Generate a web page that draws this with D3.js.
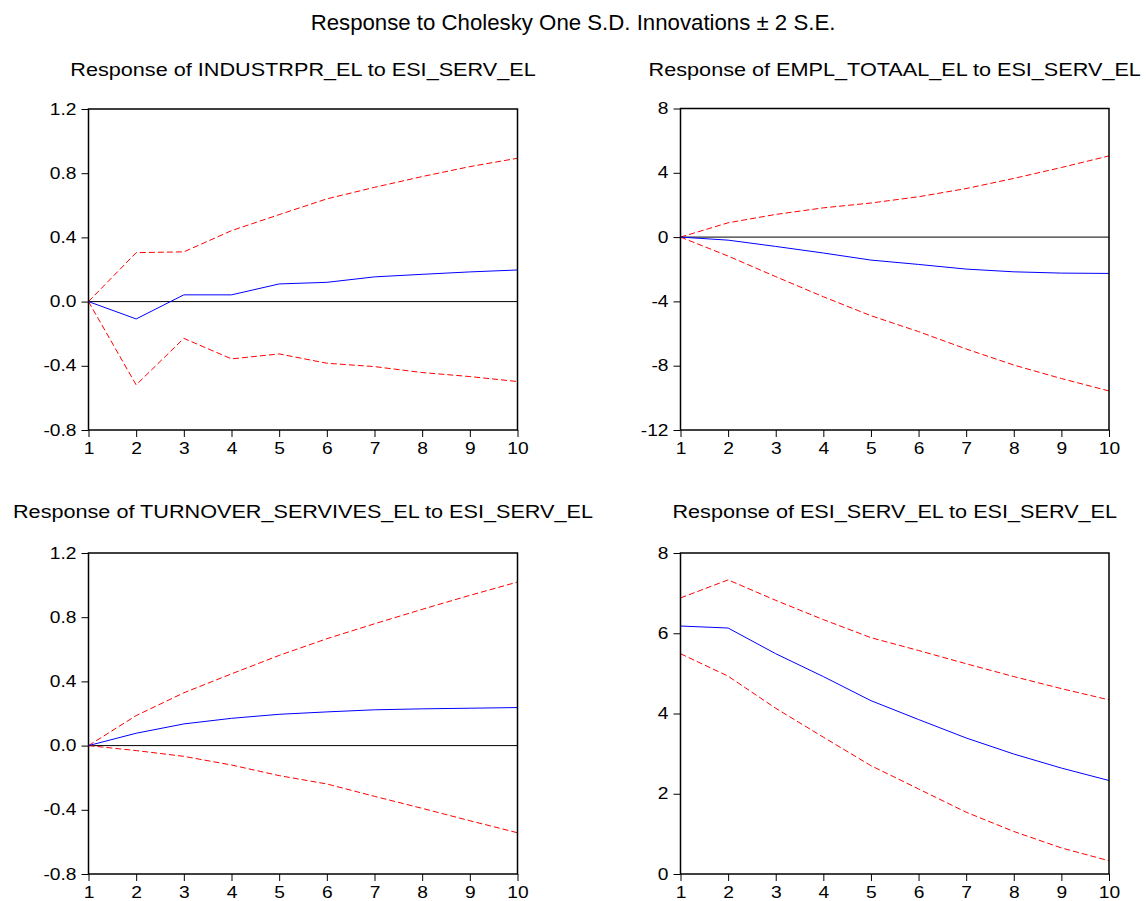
<!DOCTYPE html>
<html>
<head>
<meta charset="utf-8">
<script src="https://cdn.jsdelivr.net/npm/d3@7/dist/d3.min.js"></script>
<style>
  html, body { margin: 0; padding: 0; background: #fff; }
  svg { display: block; font-family: "Liberation Sans", Arial, sans-serif; }
</style>
</head>
<body>
<svg id="chart" width="1146" height="901"></svg>
<script>
// ---------- DATA ----------
const periods = [1, 2, 3, 4, 5, 6, 7, 8, 9, 10];

const mainTitle = "Response to Cholesky One S.D. Innovations \u00B1 2 S.E.";
const panelTitles = [
  "Response of INDUSTRPR_EL to ESI_SERV_EL",
  "Response of EMPL_TOTAAL_EL to ESI_SERV_EL",
  "Response of TURNOVER_SERVIVES_EL to ESI_SERV_EL",
  "Response of ESI_SERV_EL to ESI_SERV_EL"
];

// Panel 1: INDUSTRPR_EL
const industrprResp  = [0, -0.108, 0.042, 0.042, 0.110, 0.120, 0.154, 0.170, 0.185, 0.197];
const industrprUpper = [0, 0.305, 0.310, 0.442, 0.542, 0.640, 0.712, 0.779, 0.841, 0.893];
const industrprLower = [0, -0.519, -0.229, -0.357, -0.326, -0.384, -0.405, -0.442, -0.467, -0.498];

// Panel 2: EMPL_TOTAAL_EL
const emplResp  = [0, -0.19, -0.58, -0.99, -1.43, -1.70, -1.99, -2.16, -2.24, -2.26];
const emplUpper = [0, 0.89, 1.41, 1.82, 2.12, 2.51, 3.02, 3.65, 4.33, 5.05];
const emplLower = [0, -1.18, -2.46, -3.71, -4.89, -5.88, -6.96, -7.96, -8.80, -9.57];

// Panel 3: TURNOVER_SERVIVES_EL
const turnoverResp  = [0, 0.077, 0.135, 0.170, 0.195, 0.210, 0.223, 0.229, 0.233, 0.237];
const turnoverUpper = [0, 0.187, 0.329, 0.447, 0.562, 0.666, 0.759, 0.849, 0.936, 1.019];
const turnoverLower = [0, -0.031, -0.067, -0.121, -0.187, -0.239, -0.316, -0.391, -0.468, -0.543];

// Panel 4: ESI_SERV_EL
const esiResp  = [6.18, 6.13, 5.49, 4.92, 4.32, 3.85, 3.39, 2.99, 2.64, 2.33];
const esiUpper = [6.88, 7.33, 6.82, 6.34, 5.89, 5.57, 5.24, 4.92, 4.62, 4.34];
const esiLower = [5.49, 4.93, 4.13, 3.41, 2.70, 2.12, 1.54, 1.06, 0.65, 0.33];

// Tick values
const yTicks1 = [-0.8, -0.4, 0.0, 0.4, 0.8, 1.2];
const yTicks2 = [-12, -8, -4, 0, 4, 8];
const yTicks3 = [-0.8, -0.4, 0.0, 0.4, 0.8, 1.2];
const yTicks4 = [0, 2, 4, 6, 8];

// ---------- LAYOUT ----------
const svg = d3.select("#chart");
const SX = 1.2;          // horizontal stretch of tick glyphs in the reference
const TSX = 1.17;        // horizontal stretch of panel titles
const hy = f => d => f(d).replace("\u2212", "-");

const panels = [
  { title: panelTitles[0], resp: industrprResp, up: industrprUpper, lo: industrprLower,
    ticks: yTicks1, fmt: hy(d3.format(".1f")), box: { l: 88.5, r: 517.5, t: 109, b: 430 }, titleY: 76, zero: true },
  { title: panelTitles[1], resp: emplResp, up: emplUpper, lo: emplLower,
    ticks: yTicks2, fmt: hy(d3.format("d")), box: { l: 680.5, r: 1109, t: 108.5, b: 430 }, titleY: 76, zero: true },
  { title: panelTitles[2], resp: turnoverResp, up: turnoverUpper, lo: turnoverLower,
    ticks: yTicks3, fmt: hy(d3.format(".1f")), box: { l: 88.5, r: 517.5, t: 553, b: 874 }, titleY: 518, zero: true },
  { title: panelTitles[3], resp: esiResp, up: esiUpper, lo: esiLower,
    ticks: yTicks4, fmt: hy(d3.format("d")), box: { l: 680.5, r: 1109, t: 553, b: 874 }, titleY: 518, zero: false }
];

svg.append("text")
  .attr("transform", "translate(573,30) scale(1.01,1)")
  .attr("text-anchor", "middle")
  .attr("font-size", 22)
  .attr("fill", "#000")
  .text(mainTitle);

panels.forEach(p => {
  const b = p.box;
  const x = d3.scaleLinear().domain([1, 10]).range([b.l, b.r]);
  const y = d3.scaleLinear().domain(d3.extent(p.ticks)).range([b.b, b.t]);
  const g = svg.append("g");

  g.append("text")
    .attr("transform", `translate(${(b.l + b.r) / 2},${p.titleY}) scale(${TSX},1)`)
    .attr("text-anchor", "middle")
    .attr("font-size", 18.5)
    .attr("fill", "#000")
    .text(p.title);

  // axes
  const yAxis = d3.axisLeft(y).tickValues(p.ticks).tickFormat(p.fmt).tickSizeInner(7).tickSizeOuter(0).tickPadding(5);
  const xAxis = d3.axisBottom(x).tickValues(periods).tickFormat(d3.format("d")).tickSizeInner(7).tickSizeOuter(0).tickPadding(6);

  const ya = g.append("g").attr("transform", `translate(${b.l},0)`).call(yAxis);
  const xa = g.append("g").attr("transform", `translate(0,${b.b})`).call(xAxis);
  [ya, xa].forEach(a => {
    a.attr("font-family", null).attr("font-size", null);
    a.select(".domain").remove();
    a.selectAll("line").attr("stroke", "#000");
    a.selectAll("text").attr("font-size", 16).attr("fill", "#000");
  });
  ya.selectAll("text").attr("x", -12 / SX).attr("transform", `scale(${SX},1)`);
  xa.selectAll("text").attr("transform", `scale(${SX},1)`);

  // zero line
  if (p.zero) {
    g.append("line")
      .attr("x1", b.l).attr("x2", b.r)
      .attr("y1", y(0)).attr("y2", y(0))
      .attr("stroke", "#000").attr("stroke-width", 1);
  }

  const line = d3.line().x((d, i) => x(periods[i])).y(d => y(d));

  g.append("path").datum(p.up).attr("d", line)
    .attr("fill", "none").attr("stroke", "#ff0000").attr("stroke-width", 1)
    .attr("stroke-dasharray", "6,3");
  g.append("path").datum(p.lo).attr("d", line)
    .attr("fill", "none").attr("stroke", "#ff0000").attr("stroke-width", 1)
    .attr("stroke-dasharray", "6,3");
  g.append("path").datum(p.resp).attr("d", line)
    .attr("fill", "none").attr("stroke", "#0000ff").attr("stroke-width", 1);

  // frame
  g.append("rect")
    .attr("x", b.l).attr("y", b.t)
    .attr("width", b.r - b.l).attr("height", b.b - b.t)
    .attr("fill", "none").attr("stroke", "#000").attr("stroke-width", 1.5);
});
</script>
</body>
</html>
